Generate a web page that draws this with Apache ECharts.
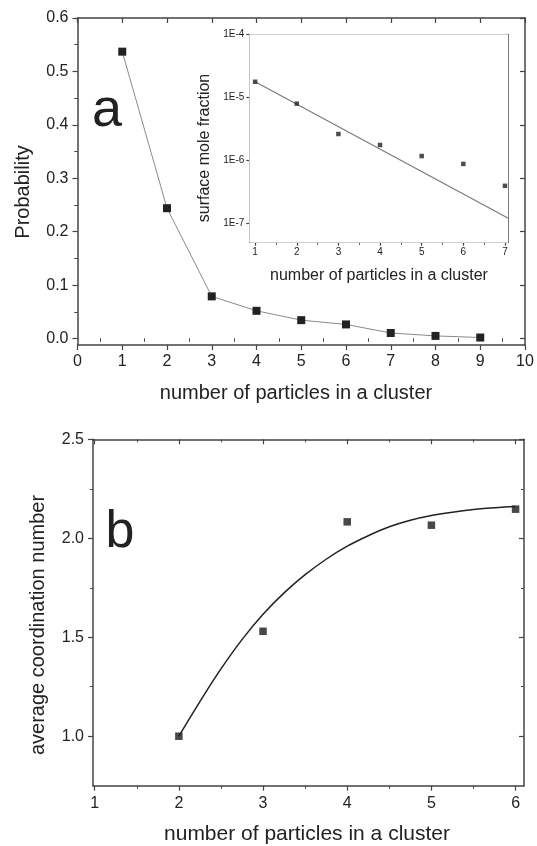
<!DOCTYPE html>
<html>
<head>
<meta charset="utf-8">
<script src="https://cdn.jsdelivr.net/npm/echarts@6/dist/echarts.min.js"></script>
<style>
html, body { margin: 0; padding: 0; background: #fff; }
#chart { width: 537px; height: 846px; }
</style>
</head>
<body>
<div id="chart"></div>
<script>
// panel a: cluster size distribution
var clusterSize = [1, 2, 3, 4, 5, 6, 7, 8, 9];
var probability = [0.537, 0.244, 0.079, 0.052, 0.0345, 0.0265, 0.0105, 0.005, 0.002];

// inset: surface mole fraction (log scale)
var insetSize = [1, 2, 3, 4, 5, 6, 7];
var moleFraction = [1.76e-5, 7.9e-6, 2.6e-6, 1.74e-6, 1.16e-6, 8.7e-7, 3.9e-7];
var fitSize = [1, 7.08];
var fitFraction = [1.76e-5, 1.19e-7];

// panel b: coordination number
var coordSize = [2, 3, 4, 5, 6];
var coordNumber = [1.0, 1.53, 2.083, 2.066, 2.147];
var curveSize = [2, 2.25, 2.5, 2.75, 3, 3.25, 3.5, 3.75, 4, 4.25, 4.5, 4.75, 5, 5.25, 5.5, 5.75, 6];
var curveNumber = [1.0, 1.175, 1.34, 1.488, 1.616, 1.724, 1.816, 1.894, 1.96, 2.013, 2.058, 2.091, 2.115, 2.132, 2.145, 2.154, 2.16];

// tick labels
var aXTicks = [0, 1, 2, 3, 4, 5, 6, 7, 8, 9, 10];
var aXMinor = [0.5, 1.5, 2.5, 3.5, 4.5, 5.5, 6.5, 7.5, 8.5, 9.5];
var aYTicks = [0, 0.1, 0.2, 0.3, 0.4, 0.5, 0.6];
var aYMinor = [0.05, 0.15, 0.25, 0.35, 0.45, 0.55];
var inXTicks = [1, 2, 3, 4, 5, 6, 7];
var inXMinor = [1.5, 2.5, 3.5, 4.5, 5.5, 6.5];
var inYTicks = [-7, -6, -5, -4];
var bXTicks = [1, 2, 3, 4, 5, 6];
var bXMinor = [1.5, 2.5, 3.5, 4.5, 5.5];
var bYTicks = [1.0, 1.5, 2.0, 2.5];
var bYMinor = [1.25, 1.75, 2.25];

var inYMin = -7.313, inYMax = -4;
var inYMinor = [];
for (var n = -8; n <= -5; n++) {
	for (var k = 2; k <= 9; k++) {
		var v = Math.log10(k) + n;
		if (v > inYMin && v < inYMax) inYMinor.push(v);
	}
}

var FONT = 'Liberation Sans';
var AX = '#444';

// one axis with major ticks (+labels) and a twin carrying the minor ticks
var axes = (grid, pos, min, max, major, minor, o) => {
	o = o || {};
	var base = { type: 'value', gridIndex: grid, position: pos, min: min, max: max, splitLine: { show: false }, silent: true };
	var a = Object.assign({}, base, {
		axisLine: { show: true, onZero: false, lineStyle: { color: AX, width: o.lw || 1.5 } },
		axisTick: { show: true, inside: !!o.inside, length: o.len || 5, customValues: major, lineStyle: { color: AX, width: 1.2 } },
		axisLabel: { show: !!o.labels, customValues: major, margin: o.margin || 8, fontSize: o.fs || 16, color: '#222', fontFamily: FONT, formatter: o.fmt }
	});
	var b = Object.assign({}, base, {
		axisLine: { show: false },
		axisTick: { show: true, inside: o.minorInside !== undefined ? o.minorInside : !!o.inside, length: o.mlen || 3, customValues: minor, lineStyle: { color: AX, width: 1 } },
		axisLabel: { show: false }
	});
	return [a, b];
};

var fix1 = v => v.toFixed(1);
var intf = v => String(Math.round(v));
var expf = v => '1E' + Math.round(v);

var xAxes = [].concat(
	axes(0, 'bottom', 0, 10, aXTicks, aXMinor, { labels: true, fmt: intf, margin: 9 }),
	axes(0, 'top', 0, 10, aXTicks, aXMinor, { inside: true }),
	axes(1, 'bottom', 0.86, 7.08, inXTicks, inXMinor, { labels: true, fmt: intf, fs: 10, margin: 5, len: 3, mlen: 2, lw: 1 }),
	axes(1, 'top', 0.86, 7.08, inXTicks, inXMinor, { inside: true, len: 3, mlen: 2, lw: 1 }),
	axes(2, 'bottom', 0.98, 6.1, bXTicks, bXMinor, { labels: true, fmt: intf, margin: 10 }),
	axes(2, 'top', 0.98, 6.1, bXTicks, bXMinor, { inside: true })
);
var yAxes = [].concat(
	axes(0, 'left', -0.012, 0.6, aYTicks, aYMinor, { labels: true, fmt: fix1, margin: 9 }),
	axes(0, 'right', -0.012, 0.6, aYTicks, aYMinor, { inside: true }),
	axes(1, 'left', inYMin, inYMax, inYTicks, inYMinor, { labels: true, fmt: expf, fs: 10, margin: 5, len: 3, mlen: 2, lw: 1, minorInside: true }),
	axes(1, 'right', inYMin, inYMax, inYTicks, inYMinor, { inside: true, len: 3, mlen: 2, lw: 1 }),
	axes(2, 'left', 0.75, 2.5, bYTicks, bYMinor, { labels: true, fmt: fix1, margin: 9 }),
	axes(2, 'right', 0.75, 2.5, bYTicks, bYMinor, { inside: true })
);

var pairs = (xs, ys, f) => xs.map((x, i) => [x, f ? f(ys[i]) : ys[i]]);

var title = (text, x, y, size, rot) => ({
	type: 'text', x: x, y: y, rotation: rot || 0, silent: true,
	style: { text: text, x: 0, y: 0, align: 'center', verticalAlign: 'middle', font: size + 'px "' + FONT + '"', fill: '#222' }
});

var myChart = echarts.init(document.getElementById('chart'), null, { renderer: 'canvas' });
var chartOption = {
	backgroundColor: '#fff',
	animation: false,
	grid: [
		{ left: 77.5, top: 18, width: 447.5, height: 327 },
		{ left: 249.3, top: 34.3, width: 259, height: 208.4, show: true, backgroundColor: '#fff', borderWidth: 0, z: 3 },
		{ left: 93, top: 439.3, width: 431, height: 346.4 }
	],
	xAxis: xAxes,
	yAxis: yAxes,
	series: [
		{
			type: 'line', xAxisIndex: 0, yAxisIndex: 0,
			data: pairs(clusterSize, probability),
			symbol: 'rect', symbolSize: 8,
			lineStyle: { color: '#8a8a8a', width: 1 },
			itemStyle: { color: '#222' }
		},
		{
			type: 'line', xAxisIndex: 4, yAxisIndex: 4,
			data: pairs(fitSize, fitFraction, Math.log10),
			showSymbol: false, symbol: 'none', z: 4,
			lineStyle: { color: '#7a7a7a', width: 1.2 }
		},
		{
			type: 'scatter', xAxisIndex: 4, yAxisIndex: 4,
			data: pairs(insetSize, moleFraction, Math.log10),
			symbol: 'rect', symbolSize: 4.5, z: 5,
			itemStyle: { color: '#222' }
		},
		{
			type: 'line', xAxisIndex: 8, yAxisIndex: 8,
			data: pairs(curveSize, curveNumber),
			smooth: 0.4, showSymbol: false, symbol: 'none',
			lineStyle: { color: '#222', width: 1.5 }
		},
		{
			type: 'scatter', xAxisIndex: 8, yAxisIndex: 8,
			data: pairs(coordSize, coordNumber),
			symbol: 'rect', symbolSize: 7.5,
			itemStyle: { color: '#1a1a1a' }
		}
	],
	graphic: [
		title('Probability', 23, 192, 20, Math.PI / 2),
		title('number of particles in a cluster', 296, 393, 20),
		title('surface mole fraction', 205, 148, 16, Math.PI / 2),
		title('number of particles in a cluster', 379, 276, 16),
		title('average coordination number', 38, 625, 20, Math.PI / 2),
		title('number of particles in a cluster', 307, 834, 21),
		title('a', 107, 111, 54),
		title('b', 120, 533, 52)
	]
};
myChart.setOption(chartOption);
</script>
</body>
</html>
